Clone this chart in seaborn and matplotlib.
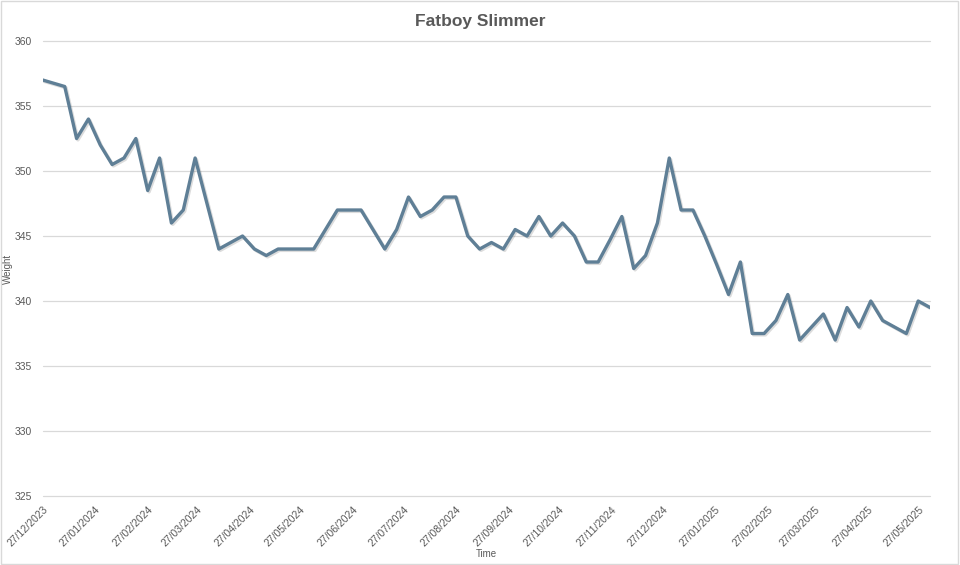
import numpy as np
import pandas as pd
import matplotlib
matplotlib.use("Agg")
import matplotlib.pyplot as plt
import matplotlib.dates as mdates
import matplotlib.patheffects as pe
import seaborn as sns

# weigh-in dates (first one, then weekly on Tuesdays)
dates = [
    "2023-12-27",
    "2024-01-09", "2024-01-16", "2024-01-23", "2024-01-30", "2024-02-06", "2024-02-13",
    "2024-02-20", "2024-02-27", "2024-03-05", "2024-03-12", "2024-03-19", "2024-03-26",
    "2024-04-02", "2024-04-09", "2024-04-16", "2024-04-23", "2024-04-30", "2024-05-07",
    "2024-05-14", "2024-05-21", "2024-05-28", "2024-06-04", "2024-06-11", "2024-06-18",
    "2024-06-25", "2024-07-02", "2024-07-09", "2024-07-16", "2024-07-23", "2024-07-30",
    "2024-08-06", "2024-08-13", "2024-08-20", "2024-08-27", "2024-09-03", "2024-09-10",
    "2024-09-17", "2024-09-24", "2024-10-01", "2024-10-08", "2024-10-15", "2024-10-22",
    "2024-10-29", "2024-11-05", "2024-11-12", "2024-11-19", "2024-11-26", "2024-12-03",
    "2024-12-10", "2024-12-17", "2024-12-24", "2024-12-31", "2025-01-07", "2025-01-14",
    "2025-01-21", "2025-01-28", "2025-02-04", "2025-02-11", "2025-02-18", "2025-02-25",
    "2025-03-04", "2025-03-11", "2025-03-18", "2025-03-25", "2025-04-01", "2025-04-08",
    "2025-04-15", "2025-04-22", "2025-04-29", "2025-05-06", "2025-05-13", "2025-05-20",
    "2025-05-27", "2025-06-03",
]

weights = [
    357,
    356.5, 352.5, 354, 352, 350.5, 351,
    352.5, 348.5, 351, 346, 347, 351,
    347.5, 344, 344.5, 345, 344, 343.5,
    344, 344, 344, 344, 345.5, 347,
    347, 347, 345.5, 344, 345.5, 348,
    346.5, 347, 348, 348, 345, 344,
    344.5, 344, 345.5, 345, 346.5, 345,
    346, 345, 343, 343, 344.7, 346.5,
    342.5, 343.5, 346, 351, 347, 347,
    345, 342.8, 340.5, 343, 337.5, 337.5,
    338.5, 340.5, 337, 338, 339, 337,
    339.5, 338, 340, 338.5, 338, 337.5,
    340, 339.5,
]

y_ticks = [325, 330, 335, 340, 345, 350, 355, 360]

df = pd.DataFrame({"Date": pd.to_datetime(dates), "Weight": weights})

sns.set_theme(style="white")
plt.rcParams["font.family"] = ["Liberation Sans", "DejaVu Sans"]

grey = "#595959"
fig = plt.figure(figsize=(9.6, 5.65), dpi=100)
ax = fig.add_axes([0.0445, 0.1221, 0.9243, 0.8053])

sns.lineplot(data=df, x="Date", y="Weight", ax=ax, color="#5f7f96", linewidth=2.4,
             path_effects=[pe.SimpleLineShadow(offset=(1, -1), alpha=0.15), pe.Normal()])

ax.set_xlim(df["Date"].iloc[0], df["Date"].iloc[-1])
ax.set_ylim(325, 360)
ax.set_yticks(y_ticks)
ax.yaxis.grid(True, color="#d9d9d9", linewidth=0.9)
ax.xaxis.grid(False)
ax.set_axisbelow(True)
for gl in ax.get_ygridlines():
    gl.set_clip_on(False)
for s in ax.spines.values():
    s.set_visible(False)

ax.xaxis.set_major_locator(mdates.MonthLocator(bymonthday=27))
ax.xaxis.set_major_formatter(mdates.DateFormatter("%d/%m/%Y"))
ax.tick_params(axis="x", length=0, pad=6, labelsize=7.5, labelcolor=grey)
ax.tick_params(axis="y", length=0, pad=8, labelsize=7.5, labelcolor=grey)
for lab in ax.get_xticklabels():
    lab.set_rotation(45)
    lab.set_ha("right")
    lab.set_rotation_mode("anchor")

ax.set_xlabel("Time", fontsize=7, color=grey, labelpad=0)
ax.set_ylabel("Weight", fontsize=7, color=grey, labelpad=4)
ax.xaxis.set_label_coords(0.5, -0.1165)
ax.yaxis.set_label_coords(-0.033, 0.5)

fig.text(0.5, 0.962, "Fatboy Slimmer", ha="center", va="center", fontsize=12.5,
         fontweight="bold", color=grey,
         family=["Liberation Sans Narrow", "Liberation Sans", "DejaVu Sans"])

fig.patches.append(plt.Rectangle((0.001, 0.002), 0.997, 0.996, transform=fig.transFigure,
                                 fill=False, edgecolor="#d9d9d9", linewidth=1))

fig.savefig("out.png", dpi=100)
